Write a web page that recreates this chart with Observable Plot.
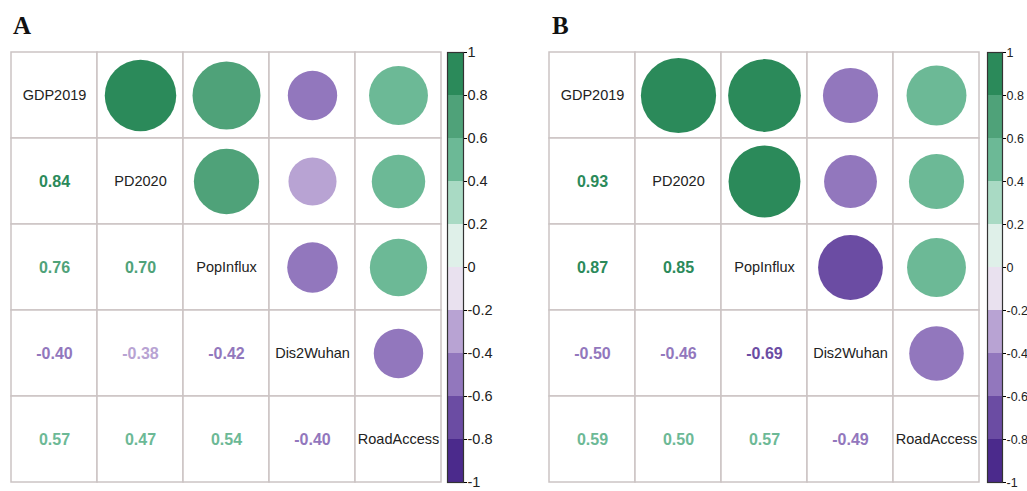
<!DOCTYPE html>
<html><head><meta charset="utf-8">
<script src="https://cdn.jsdelivr.net/npm/d3@7"></script>
<script src="https://cdn.jsdelivr.net/npm/@observablehq/plot@0.6"></script>
<style>
body{margin:0;background:#fff;font-family:"Liberation Sans",Arial,sans-serif;}
#root{position:relative;width:1027px;height:491px;overflow:hidden;background:#fff;}
.panel-label{position:absolute;font-family:"Liberation Serif","Times New Roman",serif;font-weight:bold;font-size:25px;line-height:25px;color:#111;}
.abs{position:absolute;}
.abs svg{max-width:none !important;}
</style></head><body><div id="root"></div>
<script>
const variables = ["GDP2019", "PD2020", "PopInflux", "Dis2Wuhan", "RoadAccess"];
// Panel A correlation matrix (rows/cols follow `variables`)
const corrA = [
  [1.00, 0.84, 0.76, -0.401, 0.57],
  [0.84, 1.00, 0.70, -0.38, 0.47],
  [0.76, 0.70, 1.00, -0.42, 0.54],
  [-0.401, -0.38, -0.42, 1.00, -0.402],
  [0.57, 0.47, 0.54, -0.402, 1.00]
];
// Panel B correlation matrix
const corrB = [
  [1.00, 0.93, 0.87, -0.50, 0.59],
  [0.93, 1.00, 0.85, -0.46, 0.50],
  [0.87, 0.85, 1.00, -0.69, 0.57],
  [-0.50, -0.46, -0.69, 1.00, -0.49],
  [0.59, 0.50, 0.57, -0.49, 1.00]
];
const colorBreaks = [-0.8, -0.6, -0.4, -0.2, 0, 0.2, 0.4, 0.6, 0.8];
const palette = ["#4b2a8c", "#6b4ca3", "#9277bd", "#b8a3d3", "#e9e1ef",
                 "#dff0e9", "#a9dac4", "#6cb996", "#4fa279", "#2b8a5a"];
const legendTicks = [-1, -0.8, -0.6, -0.4, -0.2, 0, 0.2, 0.4, 0.6, 0.8, 1];

// corrplot bins are right-closed: (a, b]
const colorScale = {type: "threshold", domain: colorBreaks.map(b => b + 1e-9), range: palette};
const font = "Liberation Sans, Arial, sans-serif";

function matrixPlot(m) {
  const cells = [];
  m.forEach((row, i) => row.forEach((v, j) => cells.push({row: variables[i], col: variables[j], i, j, v})));
  return Plot.plot({
    width: 437, height: 434, marginTop: 2, marginBottom: 2, marginLeft: 2, marginRight: 2,
    x: {domain: variables, padding: 0, axis: null},
    y: {domain: variables, padding: 0, axis: null},
    r: {type: "sqrt", domain: [0, 1], range: [0, 39]},
    color: colorScale,
    style: {fontFamily: font, background: "white", maxWidth: "none"},
    marks: [
      Plot.cell(cells, {x: "col", y: "row", fill: "white", stroke: "#cbc4c4", strokeWidth: 1.5, inset: 0}),
      Plot.dot(cells.filter(d => d.j > d.i), {x: "col", y: "row", r: d => Math.abs(d.v), fill: "v", stroke: "none"}),
      Plot.text(cells.filter(d => d.j < d.i), {x: "col", y: "row", text: d => d.v.toFixed(2), fill: "v", fontSize: 16, fontWeight: "bold"}),
      Plot.text(cells.filter(d => d.j === d.i), {x: "col", y: "row", text: "row", fill: "#222", fontSize: 14.5})
    ]
  });
}

function colorbar(barWidth, labelSize) {
  const bins = d3.range(10).map(k => ({lo: legendTicks[k], hi: legendTicks[k + 1]}));
  return Plot.plot({
    width: 1 + barWidth + 34, height: 434, marginTop: 2, marginBottom: 2, marginLeft: 1, marginRight: 34,
    x: {domain: ["bar"], padding: 0, axis: null},
    y: {domain: [-1, 1]},
    color: colorScale,
    style: {fontFamily: font, background: "transparent", overflow: "visible", maxWidth: "none"},
    marks: [
      Plot.barY(bins, {x: () => "bar", y1: "lo", y2: "hi", fill: d => (d.lo + d.hi) / 2, inset: 0}),
      Plot.frame({stroke: "#333", strokeWidth: 1.2}),
      Plot.axisY({anchor: "right", ticks: legendTicks, tickSize: 3, tickPadding: 1, fontSize: labelSize, fill: "#222",
        tickFormat: d => String(+d.toFixed(1)), label: null})
    ]
  });
}

const root = document.getElementById("root");
function place(el, left, top) {
  const div = document.createElement("div");
  div.className = "abs";
  div.style.left = left + "px";
  div.style.top = top + "px";
  div.style.width = el.getAttribute("width") + "px";
  div.appendChild(el);
  root.appendChild(div);
}
function label(txt, left, top) {
  const d = document.createElement("div");
  d.className = "panel-label";
  d.style.left = left + "px";
  d.style.top = top + "px";
  d.textContent = txt;
  root.appendChild(d);
}
label("A", 13, 13);
label("B", 552, 13);
place(matrixPlot(corrA), 7, 50);
place(colorbar(16, 14.5), 446, 50);
place(matrixPlot(corrB), 545, 50);
place(colorbar(15, 12.5), 986, 50);
</script>
</body></html>
